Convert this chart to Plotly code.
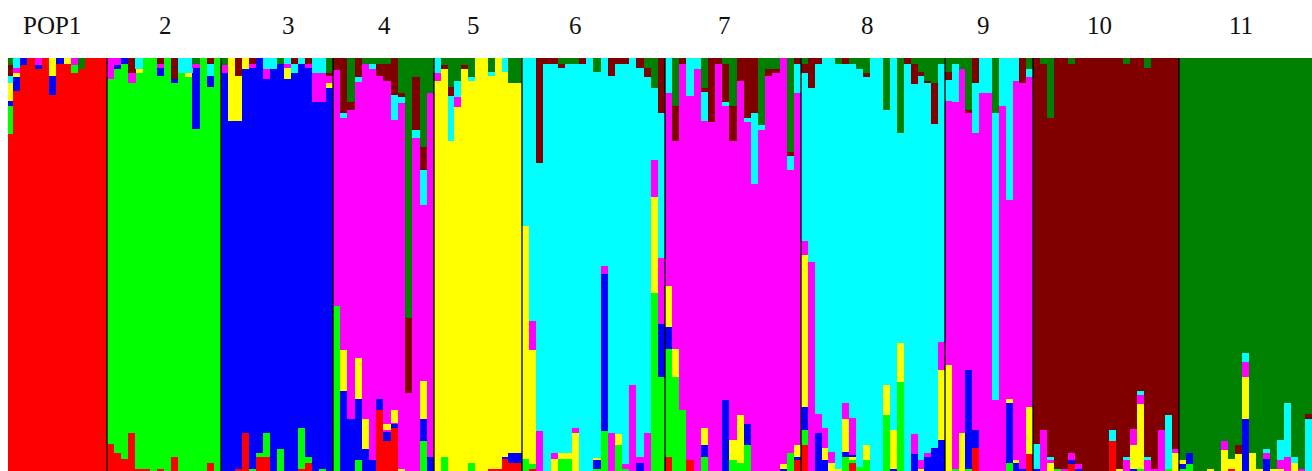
import plotly.graph_objects as go

# Membership in percent. "bottom segments / top segments"; the population's
# main cluster fills what remains. Letters name the inferred clusters.
pop_labels = ["POP1", "2", "3", "4", "5", "6", "7", "8", "9", "10", "11"]
pop_main = ["R", "G", "B", "M", "Y", "C", "M", "C", "M", "D", "K"]

pop1 = ["/K1.6 D2.8 C1.6 Y4.4 B1.2 G6.9", "/C2.4 M1.2 Y1 B3.5", "/B1.6", "", "/M1.6 B1", "",
        "/Y4.4 B4.5", "/B1.5", "/Y1.5", "/M1.6 G2", "/K2.6", "", "", ""]
pop2 = ["R6.5/M5.2", "R4.3/M1.6 B1", "R2.8/B1.5", "R9.1/D3.6 M2.4", "R.6/C2.6 Y1", "R.6/", "",
        "R.6/D1.5 M1 B1.9", "", "R3.3/D5.2 B.8", "/C3.6", "/C3.6 Y1", "/K1.5 M1 B14.6", "",
        "R1.9/D1.5 C2.8 B2.8", ""]
pop3 = ["/K1.6 M2", "/Y15.3", "R.6/D4.4 Y10.9", "R9.1/Y2.6", "G.6/D1.5 M1", "R3.3 G1/",
        "R3.3 G5.8/C2.6 M2.6", "/C2.6", "G5.3/K1.5", "/C1.5 M1 Y2.6", "/D1.5 C2.2",
        "R.6 G9.7/C1.5", "R1.9 G1.5/D1.5 M1", "/C3.6 M7", "G.6/C3.6 M7", "/K3.6 D.8 M1.6 Y1.2"]
pop4 = ["G40/D2.9", "B19.4 Y10/D13.4 C1.2", "B12.5/K10.6 D2", "G2.7 B14.7 Y10/D4.5 C1.2",
        "B5.3 Y7.4/K1.5", "B2.7/K1.5 C1.2", "R14.8 B2.6/K1.5 D2.9", "R7.3 B2.2 M.4 Y1.6/K1.5 D4",
        "R10.5 B.9 M.3 Y3/D9 C6", "Y.6/K8.4 D1 C1.4", "/K63 D18", "/K4.5 D12.9 C2",
        "G7.3 B5.2 Y9.4/K21.6 D5.5 C8.5", "B3.3/K8.4"]
pop5 = ["/C3.7 M1.8", "G3.3/K1.7 D1", "/K7.1 D2.1 C11", "/K5.5 C3.9 M2.4", "/K1.7 D1",
        "G1.9/K4.5 C1", "", "", "R.6/K3.5 C.8", "R.6/", "R2.8 B.5/C3.5", "R1.9 B2.4/K6.1",
        "R1.9 B2.4/K6.1"]
pop6 = ["G2.8 Y56.5/", "R.6 G1 Y27.7 M7.1/", "M9.8/D25.5", "/D1.5", "Y2.8 M1.5/D1.5",
        "G2.8 Y1.5/K1.5 D1", "G2.8 Y1.5/K1.5", "Y9.1 M1.3/K1.5", "/D1.5", "", "G.6 B2 Y.6/K3.5",
        "G9.8 B37.9 M1.9/", "M9.1/D4.4", "G6.3 Y2.7/D1.5", "G.6 M1.2/D1.5", "M20.8/",
        "B1.9 M1.5/D2.5", "M9.1/K2.5 D2", "G43.1 Y23.2 M9/K7.3", "G22.7 B12.9 M15.9/D13.4"]
pop7 = ["R3.3 G26.2 B5.3 Y10/C8.4", "G22.7 Y6.8/K11.6 D8.6", "G14.8/D1.5", "R2.7/C9.2", "/C2.7",
        "G3.3 B3 Y4/K7.3 D1 C7", "/D15.4", "/D1.5", "B17.2/K1.5 D9.1 C1", "G2.7 Y4.8/K11.6 D8.6",
        "G1.9 Y11.7/D5.5", "G6.3 B5.2/D14.6 C.8", "/D13.4 C17", "/K16.2 C1.2", "/K2.7 D1.7",
        "/K2.7 D.9", "B.6 Y1.2/", "G4.3/K22.7 D1 C3.4", "R2.7 B.6 Y3/D1.5 C6.9"]
pop8 = ["R6.3 G3.6 B5.6 Y36.7 M3.5/K1.5 D2.1", "M50.6/D7.3", "B9.1 M4.6/D1.5", "B2.7 Y2.8 M4.8/",
        "Y1.9 M2.6/", "Y.6/K1.5", "G3.5 B1 Y8 M3.9/D1.5", "R1.9 G.8 Y.8 B.3 M9/K1.5", "G.9/K2.7",
        "G2.7 Y3.6/K3.7 D.8", "", "", "G13.5 Y7.3/K12.6", "B.6 Y9.3/", "G21.6 Y9.4/K18.2", "/D1.5",
        "B4.1 M4.8/K1.5 D4.7", "Y.6 M2/K3.5 D.8", "B3.5 M.8/K5.5 D.6", "B5.5/K6.1 D10",
        "B7.5 Y16.9 M6.9/K1.5"]
pop9 = ["Y25.6/K3.5 D1.9 C5.1", "G.6/K1.5 C9.1", "Y9.1/K2.7", "G.6 B23.8/K12.6 D.8",
        "R5.5 B4.4/D6.1 C12.1", "/C8.4", "/C8.4", "/K13.4 C69.4", "/C11.6",
        "G1.9 B14.5 Y1/C34.4", "B1.9 Y.8/C5.5", "B.6/D6.1", "R4.1 Y11.5/K2.7 C1.9"]
pop10 = ["B.6 C5.9/", "M9.9/K1.5", "Y1.9 M.8 C.6/K14.6", "G.6/", "M.6/", "R1.7 B1 M1.6/K1.5",
         "B.6 M1.2/", "", "", "", "", "R7.3 C2.6/", "Y.6/", "M2.7 C.6/K1.5", "B.6 Y5.6 M4/",
         "G.6 Y15.7 M2 C1/", "M2.7 C.6/K2.5", "M.6/", "M9.9/", "G.6 C12.9/", "Y4.3 M1/"]
pop11 = ["G.6 B1 Y1.1/", "G1.7 B2.6/", "", "", "Y.6/", "", "Y5.2 M2/", "R.6 Y2.2/", "Y4.1 D2.2/",
         "B12.5 Y10.2 M3.8 C2/", "Y4.3/", "Y.6/", "B2.8 M1.5 C1/", "Y.6/", "Y.6 M2 C4.8/",
         "M3.3 C13.2/", "Y1.9 C1.5/", "M.6/", "C12.7 D1/"]
populations = [pop1, pop2, pop3, pop4, pop5, pop6, pop7, pop8, pop9, pop10, pop11]

cluster_colors = {"R": "#ff0000", "G": "#00ff00", "B": "#0000ff", "M": "#ff00ff",
                  "Y": "#ffff00", "C": "#00ffff", "D": "#800000", "K": "#008000"}

# layout: horizontal axis spans of the populations and label anchors
axis_edges = [5.7, 107, 221, 333, 434, 522, 665, 801, 945, 1033, 1179, 1312]
label_anchor = [52, 165, 288, 384, 473, 575, 724, 867, 983, 1099, 1241]


def parse(part):
    return [(tok[0], float(tok[1:])) for tok in part.split()]


def stack(text, main):
    below, _, above = text.partition("/")
    low = parse(below)
    high = parse(above)
    rest = 100 - sum(v for _, v in low) - sum(v for _, v in high)
    return low + [(main, rest)] + high[::-1]


xs, ws, stacks = [], [], []
for i, pop in enumerate(populations):
    left, right = axis_edges[i], axis_edges[i + 1]
    w = (right - left) / len(pop)
    for j, ind in enumerate(pop):
        xs.append(left + (j + 0.5) * w)
        ws.append(w + 0.05)
        stacks.append(stack(ind, pop_main[i]))

depth = max(len(s) for s in stacks)
fig = go.Figure()
for k in range(depth):
    fig.add_trace(go.Bar(
        x=xs, width=ws,
        y=[s[k][1] if k < len(s) else 0 for s in stacks],
        marker=dict(color=[cluster_colors[s[k][0]] if k < len(s) else "#ffffff" for s in stacks],
                    line=dict(width=0)),
        showlegend=False, hoverinfo="skip"))

shapes = [dict(type="line", xref="x", yref="paper", x0=e, x1=e, y0=0, y1=1,
               line=dict(color="rgba(0,0,0,0.65)", width=2)) for e in axis_edges[1:-1]]
annotations = [dict(text=t, x=x, xref="x", y=1.0775, yref="paper", yanchor="middle", xanchor="center",
                    showarrow=False, font=dict(family="Liberation Serif", size=25, color="#111111"))
               for t, x in zip(pop_labels, label_anchor)]

fig.update_layout(
    barmode="stack", bargap=0, width=1312, height=471,
    margin=dict(l=8, r=0, t=58, b=0), paper_bgcolor="white", plot_bgcolor="white",
    xaxis=dict(range=[8, 1312], visible=False, fixedrange=True),
    yaxis=dict(range=[0, 100], visible=False, fixedrange=True),
    shapes=shapes, annotations=annotations)
fig.write_html("out.html", config={"displayModeBar": False},
               post_script="document.body.style.margin='0';document.body.style.overflow='hidden';")
